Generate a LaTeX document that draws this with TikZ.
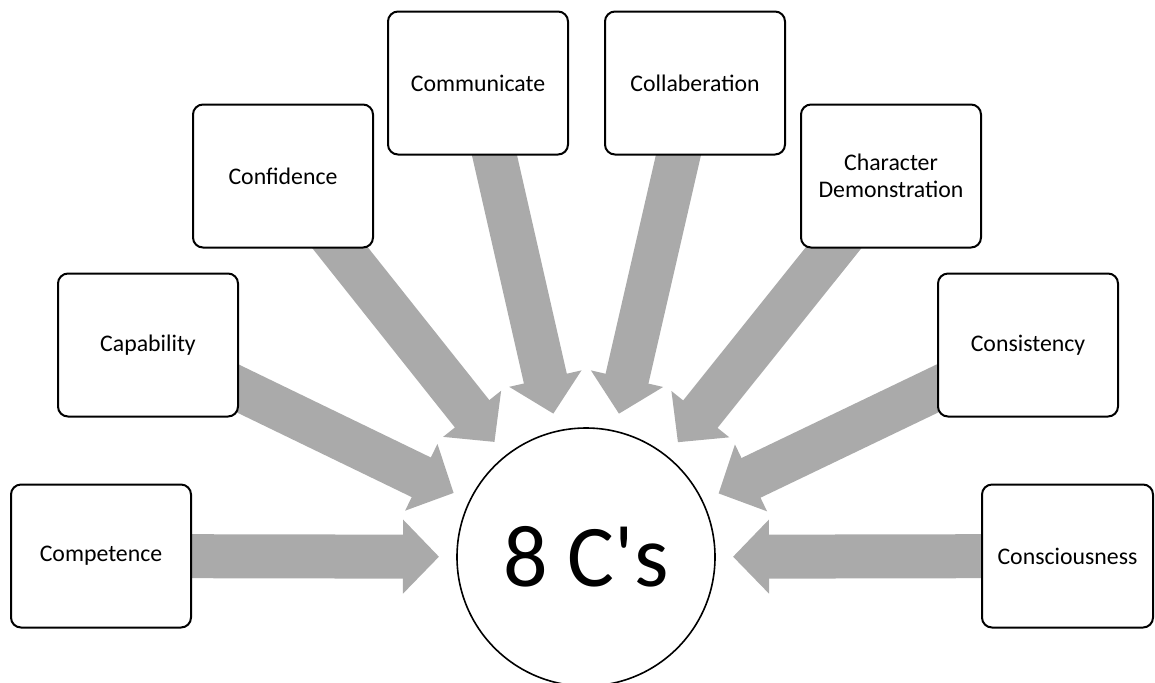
\documentclass[tikz,border=0pt]{standalone}
\usepackage{fontspec}
\setmainfont{Carlito}
\newfontfamily\hubfont{Carlito}[Ligatures=TeXOff]
\usetikzlibrary{arrows.meta,calc,backgrounds}
\definecolor{arrowgray}{HTML}{AAAAAA}
\tikzset{
  cbox/.style={draw=black, line width=1pt, rounded corners=5pt, fill=white, minimum width=90pt, minimum height=71.5pt, align=center, font=\fontsize{11.9}{13.5}\selectfont},
  hub/.style={circle, draw=black, line width=0.8pt, fill=white, minimum size=129pt, inner sep=0pt, font=\hubfont\fontsize{44}{50}\selectfont},
  push/.style={draw=arrowgray, line width=22pt, -{Triangle[width=36pt,length=18pt]}}
}

\begin{document}
\begin{tikzpicture}[x=0.5pt, y=-0.5pt]
  \useasboundingbox (0,0) rectangle (1155,682);
  \node[hub] (eight) at (586,557) {8 C's};
  \node[cbox] (competence) at (101,556) {Competence};
  \node[cbox] (capability) at (148,345) {Capability};
  \node[cbox] (confidence) at (283,176) {Confidence};
  \node[cbox] (communicate) at (478,83) {Communicate};
  \node[cbox] (collab) at (695,83) {Collaberation};
  \node[cbox] (character) at (891,176) {Character\\Demonstration};
  \node[cbox] (consistency) at (1028,345) {Consistency};
  \node[cbox, minimum width=85.5pt] (conscious) at (1067.5,556) {Consciousness};
  % arrows sit behind the boxes, tips stop short of the circle
  \begin{scope}[on background layer]
    \foreach \src in {competence,capability,confidence,communicate,collab,character,consistency,conscious} {
      \coordinate (tip-\src) at ($(eight.center)!73.5pt!(\src.center)$);
      \draw[push] (\src.center) -- (tip-\src);
    }
  \end{scope}
\end{tikzpicture}
\end{document}
